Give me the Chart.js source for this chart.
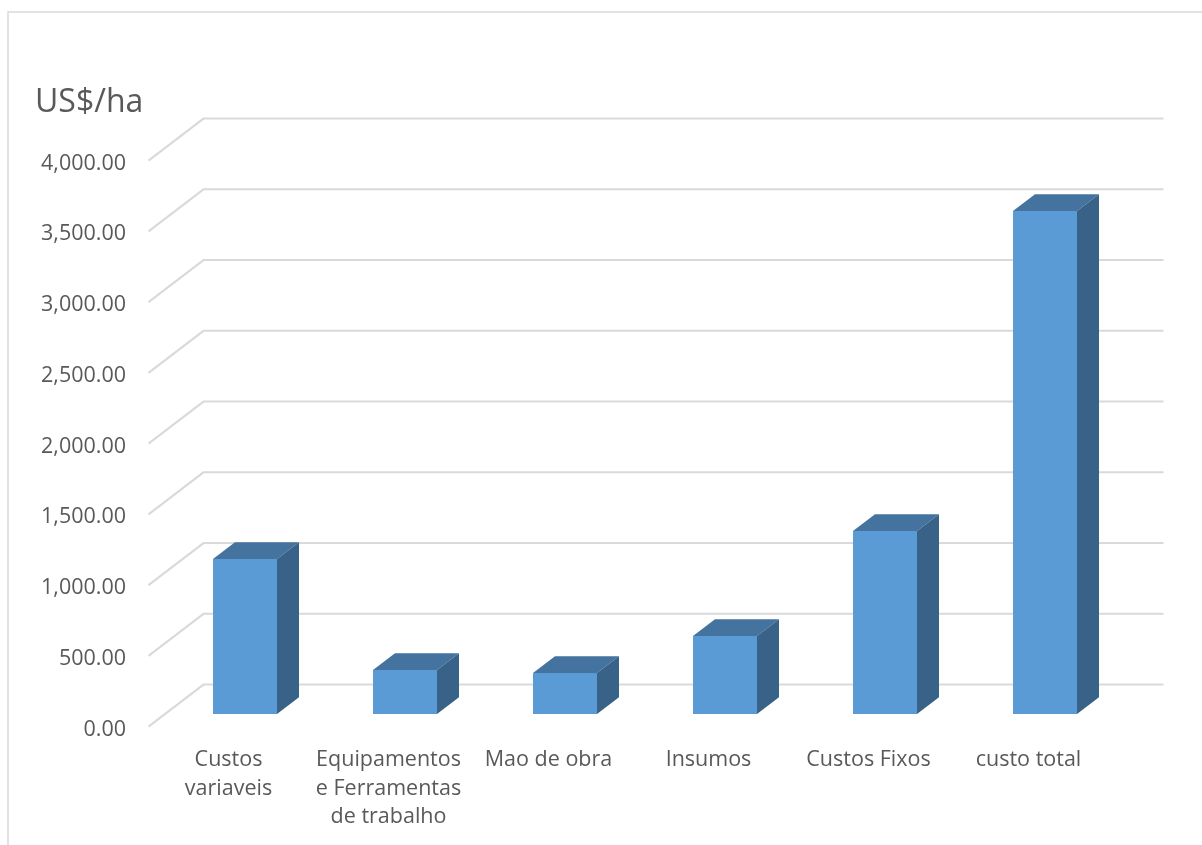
<!DOCTYPE html>
<html>
<head>
<meta charset="utf-8">
<script src="https://cdn.jsdelivr.net/npm/chart.js@4.4.1/dist/chart.umd.min.js"></script>
<style>
  html, body { margin: 0; padding: 0; background: #fff; overflow: hidden; }
  canvas { display: block; }
</style>
</head>
<body>
<canvas id="costChart" width="1202" height="845"></canvas>
<script>
// Chart data
const categories = [
    ['Custos', 'variaveis'],
    ['Equipamentos', 'e Ferramentas', 'de trabalho'],
    ['Mao de obra'],
    ['Insumos'],
    ['Custos Fixos'],
    ['custo total']
];
const costValues = [1095, 311, 290, 551, 1293, 3555];
const yTickValues = [0, 500, 1000, 1500, 2000, 2500, 3000, 3500, 4000];
const yTitle = 'US$/ha';

// 3D look (Excel style column chart)
const DEPTH_X = 55, DEPTH_Y = 42;      // floor depth
const FRONT_GAP = 0.3, BAR_DEPTH = 0.4; // fractions of the depth
const textColor = '#595959';
const gridColor = '#d9d9d9';

function fmt(v) {
    return v.toLocaleString('en-US', { minimumFractionDigits: 2, maximumFractionDigits: 2 });
}

const threeD = {
    id: 'threeD',
    beforeDraw(chart) {
        const ctx = chart.ctx;
        ctx.save();
        ctx.fillStyle = '#fff';
        ctx.fillRect(0, 0, chart.width, chart.height);
        ctx.strokeStyle = gridColor;
        ctx.lineWidth = 1.5;
        ctx.strokeRect(8, 12, chart.width + 10, chart.height + 10);
        ctx.restore();
    },
    beforeDatasetsDraw(chart) {
        const ctx = chart.ctx;
        const area = chart.chartArea;
        const y = chart.scales.y;
        // front plane is in front of the bars, back wall behind
        const fx = area.left - FRONT_GAP * DEPTH_X;
        const fdy = FRONT_GAP * DEPTH_Y;
        const bx = fx + DEPTH_X;
        const right = area.right + (1 - FRONT_GAP) * DEPTH_X;
        ctx.save();
        ctx.strokeStyle = gridColor;
        ctx.lineWidth = 2;
        yTickValues.forEach(v => {
            const py = y.getPixelForValue(v) + fdy;
            ctx.beginPath();
            ctx.moveTo(fx, py);
            ctx.lineTo(bx, py - DEPTH_Y);
            ctx.lineTo(right, py - DEPTH_Y);
            ctx.stroke();
        });
        ctx.restore();
    },
    afterDatasetsDraw(chart) {
        const ctx = chart.ctx;
        const dx = BAR_DEPTH * DEPTH_X, dy = BAR_DEPTH * DEPTH_Y;
        const meta = chart.getDatasetMeta(0);
        ctx.save();
        meta.data.forEach(bar => {
            const { x, y, base, width } = bar.getProps(['x', 'y', 'base', 'width'], true);
            const l = x - width / 2, r = x + width / 2;
            // top face
            ctx.fillStyle = '#44739f';
            ctx.beginPath();
            ctx.moveTo(l, y);
            ctx.lineTo(l + dx, y - dy);
            ctx.lineTo(r + dx, y - dy);
            ctx.lineTo(r, y);
            ctx.closePath();
            ctx.fill();
            // side face
            ctx.fillStyle = '#386287';
            ctx.beginPath();
            ctx.moveTo(r, y);
            ctx.lineTo(r + dx, y - dy);
            ctx.lineTo(r + dx, base - dy);
            ctx.lineTo(r, base);
            ctx.closePath();
            ctx.fill();
        });
        ctx.restore();
    }
};

new Chart(document.getElementById('costChart'), {
    type: 'bar',
    data: {
        labels: categories,
        datasets: [{
            label: yTitle,
            data: costValues,
            backgroundColor: '#5b9bd5',
            borderWidth: 0,
            categoryPercentage: 1,
            barPercentage: 0.4
        }]
    },
    options: {
        responsive: false,
        animation: false,
        layout: { padding: { left: 35, top: 84, right: 77, bottom: 0 } },
        plugins: {
            legend: { display: false },
            tooltip: { enabled: false },
            title: {
                display: true,
                text: yTitle,
                align: 'start',
                color: textColor,
                font: { family: 'Open Sans', size: 32, weight: 'normal' },
                padding: { top: 0, bottom: 25.6 }
            }
        },
        scales: {
            x: {
                grid: { display: false, drawTicks: false },
                border: { display: false },
                ticks: {
                    color: textColor,
                    font: { family: 'Open Sans', size: 21.5, lineHeight: 1.32 },
                    padding: 32,
                    maxRotation: 0,
                    autoSkip: false,
                    labelOffset: -FRONT_GAP * DEPTH_X
                },
                afterFit: s => { s.height = 131; }
            },
            y: {
                min: 0,
                max: 4000,
                grid: { display: false, drawTicks: false },
                border: { display: false },
                ticks: {
                    stepSize: 500,
                    color: textColor,
                    font: { family: 'Open Sans', size: 21.5 },
                    padding: 39,
                    labelOffset: FRONT_GAP * DEPTH_Y + 3,
                    callback: v => fmt(v)
                },
                afterFit: s => { s.width = 130; }
            }
        }
    },
    plugins: [threeD]
});
</script>
</body>
</html>
